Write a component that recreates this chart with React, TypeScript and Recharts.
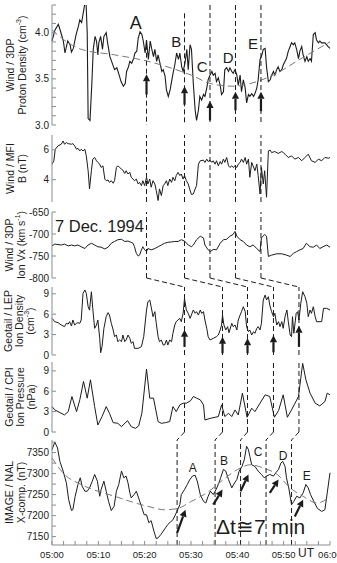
import React from "react";
import { Line, LineChart, ReferenceDot, ReferenceLine, XAxis, YAxis } from "recharts";

type Pt = [number, number];

// time is in minutes after 05:00 UT
const minuteTicks = [0, 2.5, 5, 7.5, 10, 12.5, 15, 17.5, 20, 22.5, 25, 27.5, 30, 32.5, 35, 37.5, 40, 42.5, 45, 47.5, 50, 52.5, 55, 57.5, 60];
const timeLabels = ["05:00", "05:10", "05:20", "05:30", "05:40", "05:50", "06:00"];

const densityTicks = [3.0, 3.1, 3.2, 3.3, 3.4, 3.5, 3.6, 3.7, 3.8, 3.9, 4.0, 4.1, 4.2, 4.3];
const densityLabels = [3.0, 3.5, 4.0];
const fieldTicks = [4, 6];
const vxTicks = [-800, -750, -700, -650];
const geotailTicks = [0, 3, 6, 9];
const nalTicks = [7150, 7175, 7200, 7225, 7250, 7275, 7300, 7325, 7350, 7375];
const nalLabels = [7150, 7200, 7250, 7300, 7350];

// Wind / 3DP proton density (cm-3)
const protonDensity: Pt[] = [
  [0, 3.91], [0.65, 4.03], [1.37, 4.09], [1.87, 4.01], [2.45, 3.91], [2.8, 3.78], [3.4, 3.91], [3.9, 3.87], [4.2, 3.79], [4.6, 3.83],
  [5.2, 3.98], [5.7, 4.07], [6.0, 4.14], [6.4, 4.11], [6.8, 4.23], [7.1, 4.32], [7.3, 4.39], [7.6, 4.0], [7.8, 3.07], [8.2, 3.05],
  [8.6, 3.45], [8.9, 3.82], [9.3, 3.96], [9.6, 3.91], [9.9, 3.76], [10.1, 3.89], [10.5, 3.96], [10.9, 3.82], [11.2, 3.96], [11.7, 4.0],
  [12.0, 3.89], [12.5, 3.74], [13.0, 3.67], [13.5, 3.6], [14.0, 3.62], [14.5, 3.54], [14.9, 3.47], [15.4, 3.42], [15.8, 3.45], [16.1, 3.58],
  [16.5, 3.63], [16.8, 3.69], [17.2, 3.67], [17.6, 3.72], [17.9, 3.78], [18.3, 3.8], [18.6, 3.94], [19.0, 4.01], [19.4, 3.98], [19.7, 3.91],
  [20.1, 3.78], [20.4, 3.92], [20.8, 3.71], [21.2, 3.91], [21.5, 3.83], [21.9, 3.74], [22.2, 3.82], [22.6, 3.69], [22.9, 3.76], [23.3, 3.67],
  [23.7, 3.58], [24.0, 3.6], [24.4, 3.53], [24.7, 3.38], [25.1, 3.31], [25.5, 3.38], [25.8, 3.47], [26.2, 3.58], [26.5, 3.65], [26.9, 3.78],
  [27.3, 3.71], [27.6, 3.78], [28.0, 3.63], [28.3, 3.58], [28.7, 3.67], [29.1, 3.82], [29.4, 3.6], [29.8, 3.87], [30.1, 3.82], [30.5, 3.45],
  [30.9, 3.16], [31.2, 3.05], [31.6, 3.16], [31.9, 3.31], [32.3, 3.27], [32.7, 3.33], [33.0, 3.31], [33.4, 3.4], [33.7, 3.49], [34.1, 3.54],
  [34.5, 3.58], [34.8, 3.54], [35.2, 3.56], [35.5, 3.47], [35.9, 3.51], [36.3, 3.43], [36.6, 3.33], [37.0, 3.36], [37.3, 3.6], [37.7, 3.62],
  [38.1, 3.58], [38.4, 3.62], [38.8, 3.58], [39.1, 3.56], [39.5, 3.6], [39.9, 3.54], [40.2, 3.43], [40.6, 3.54], [40.9, 3.36], [41.3, 3.49],
  [41.7, 3.4], [42.0, 3.24], [42.4, 3.33], [42.7, 3.31], [43.1, 3.34], [43.5, 3.31], [43.8, 3.34], [44.2, 3.4], [44.5, 3.49], [44.9, 3.71],
  [45.3, 3.76], [45.6, 3.82], [46.0, 3.83], [46.3, 3.63], [46.7, 3.47], [47.1, 3.49], [47.4, 3.54], [47.8, 3.58], [48.1, 3.54], [48.5, 3.6],
  [48.8, 3.63], [49.2, 3.58], [49.6, 3.6], [49.9, 3.65], [50.3, 3.69], [50.6, 3.72], [51.0, 3.8], [51.4, 3.85], [51.7, 3.89], [52.1, 3.87],
  [52.4, 3.89], [52.8, 3.82], [53.2, 3.72], [53.5, 3.8], [53.9, 3.85], [54.2, 3.76], [54.6, 3.69], [55.0, 3.74], [55.3, 3.69], [55.7, 3.72],
  [56.0, 3.69], [56.4, 3.98], [56.8, 4.0], [57.1, 3.92], [57.5, 3.89], [57.8, 3.91], [58.2, 3.89], [58.9, 3.89], [59.6, 3.85], [60, 3.83],
];
const densityTrend: Pt[] = [
  [0, 4.03], [3.5, 3.89], [6.3, 3.82], [13.5, 3.76], [20.7, 3.69], [27.9, 3.58], [30.1, 3.54], [34.1, 3.45], [39.1, 3.42],
  [44.2, 3.47], [48.5, 3.56], [52.8, 3.69], [57.2, 3.82], [60, 3.9],
];

// Wind / MFI |B| (nT)
const fieldB: Pt[] = [
  [0, 5.04], [0.4, 5.27], [0.7, 6.04], [1.3, 6.27], [2.0, 6.38], [2.4, 6.6], [2.7, 6.38], [3.1, 6.49], [3.5, 6.42], [4.2, 6.38],
  [4.5, 6.42], [4.9, 6.27], [5.3, 6.04], [5.6, 6.11], [6.0, 5.93], [6.3, 6.04], [6.7, 5.93], [7.1, 6.04], [7.4, 5.6], [7.8, 4.6],
  [8.1, 3.38], [8.5, 4.6], [8.8, 5.38], [9.2, 5.49], [9.6, 5.27], [9.9, 5.16], [10.3, 5.04], [10.6, 4.82], [11.0, 4.93], [11.4, 4.04],
  [11.7, 3.93], [12.1, 3.98], [12.4, 3.82], [12.8, 3.93], [13.2, 3.76], [13.5, 3.93], [13.9, 4.82], [14.2, 4.93], [14.6, 4.82], [15.0, 4.71],
  [15.3, 4.64], [15.7, 4.42], [16.0, 4.6], [16.4, 4.38], [16.8, 4.49], [17.1, 4.16], [17.5, 4.04], [17.8, 3.93], [18.2, 4.04], [18.6, 3.71],
  [18.9, 3.82], [19.3, 3.6], [19.6, 3.93], [20.0, 3.6], [20.4, 4.16], [20.7, 3.71], [21.1, 4.04], [21.4, 3.49], [21.8, 3.93], [22.2, 3.71],
  [22.5, 3.27], [22.9, 2.6], [23.2, 3.38], [23.6, 2.93], [24.0, 3.6], [24.3, 3.71], [24.7, 3.93], [25.0, 3.6], [25.4, 4.04], [25.8, 3.82],
  [26.1, 4.16], [26.5, 3.93], [26.8, 4.27], [27.2, 4.49], [27.6, 4.27], [27.9, 4.38], [28.3, 4.04], [28.6, 4.27], [29.0, 3.93], [29.4, 3.71],
  [29.7, 3.38], [30.1, 3.0], [30.5, 3.04], [30.9, 3.38], [31.2, 3.6], [31.6, 5.04], [32.0, 5.27], [32.7, 5.31], [33.0, 5.16], [33.4, 5.38],
  [33.7, 5.22], [34.1, 5.31], [34.5, 5.16], [34.8, 5.27], [35.2, 5.04], [35.5, 5.27], [35.9, 4.93], [36.3, 5.22], [36.6, 5.04], [37.0, 5.38],
  [37.3, 5.16], [37.7, 5.49], [38.1, 4.93], [38.4, 4.82], [38.8, 4.93], [39.1, 4.82], [39.5, 4.93], [39.9, 4.82], [40.2, 5.04], [40.6, 5.16],
  [40.9, 5.38], [41.3, 5.16], [41.7, 5.49], [42.0, 5.04], [42.4, 5.38], [42.7, 4.16], [43.1, 5.16], [43.4, 4.93], [43.8, 4.6], [44.2, 5.04],
  [44.5, 4.27], [44.9, 3.04], [45.2, 4.82], [45.6, 3.71], [45.9, 4.6], [46.3, 2.82], [46.7, 5.93], [47.1, 5.98], [47.4, 5.82], [48.1, 5.89],
  [48.8, 5.76], [49.6, 5.89], [49.9, 5.82], [50.3, 5.71], [51.0, 5.49], [51.7, 5.6], [52.4, 5.38], [53.2, 5.49], [53.9, 5.27], [54.6, 5.49],
  [55.3, 5.71], [56.0, 5.27], [56.8, 5.16], [57.5, 5.38], [58.2, 5.27], [58.9, 5.49], [59.7, 5.44], [60, 5.49],
];

// Wind / 3DP ion Vx (km/s)
const ionVx: Pt[] = [
  [0, -727], [0.6, -723], [1.3, -724], [2.0, -725], [2.7, -723], [3.5, -727], [4.2, -725], [4.9, -727], [5.6, -725], [6.3, -729],
  [7.1, -733], [7.8, -725], [8.5, -721], [9.2, -725], [9.9, -729], [10.6, -730], [11.4, -734], [12.1, -730], [12.8, -721], [13.5, -717],
  [14.2, -713], [15.0, -712], [15.7, -717], [16.4, -716], [17.1, -719], [17.5, -721], [17.8, -729], [18.2, -744], [18.6, -750], [18.9, -748],
  [19.3, -736], [19.6, -729], [20.0, -736], [20.4, -740], [20.7, -733], [21.4, -736], [22.2, -733], [22.9, -729], [23.6, -725], [24.3, -721],
  [25.0, -719], [25.8, -718], [26.5, -717], [27.2, -717], [27.9, -713], [28.6, -716], [29.4, -725], [30.1, -729], [30.5, -725], [31.2, -713],
  [32.0, -705], [32.7, -709], [33.0, -725], [33.7, -736], [34.2, -740], [34.8, -735], [35.5, -736], [36.3, -721], [37.0, -713], [37.7, -712],
  [38.4, -705], [39.1, -701], [39.5, -694], [39.9, -705], [40.6, -713], [41.3, -717], [42.0, -725], [42.7, -729], [43.4, -725], [44.2, -733],
  [44.9, -740], [45.2, -709], [45.9, -701], [46.3, -705], [46.7, -751], [47.4, -748], [48.5, -745], [49.6, -745], [50.6, -748], [51.4, -751],
  [52.1, -744], [52.8, -740], [53.5, -736], [54.2, -733], [54.9, -721], [55.7, -729], [56.4, -730], [57.1, -725], [57.8, -733], [58.5, -729],
  [59.3, -725], [60, -730],
];

// Geotail / LEP ion density (cm-3)
const lepDensity: Pt[] = [
  [0, 5.4], [0.6, 4.9], [1.3, 4.75], [2.0, 4.41], [2.7, 4.17], [3.1, 4.66], [3.5, 4.56], [3.8, 4.9], [4.2, 4.26], [4.5, 5.15],
  [4.9, 4.41], [5.3, 4.66], [5.6, 4.75], [6.0, 4.66], [6.3, 5.15], [6.7, 9.07], [7.1, 9.56], [7.4, 9.07], [7.8, 7.1], [8.1, 6.6],
  [8.5, 9.3], [8.8, 6.86], [9.2, 3.92], [9.6, 4.41], [9.9, 5.15], [10.3, 2.45], [10.5, 0.34], [10.8, 1.23], [11.2, 3.92], [11.7, 5.64],
  [12.1, 6.23], [12.4, 5.88], [12.8, 4.66], [13.2, 3.68], [13.5, 2.7], [13.9, 2.94], [14.2, 1.96], [14.6, 2.21], [15.0, 1.96], [15.3, 2.94],
  [15.7, 1.96], [16.0, 2.21], [16.4, 2.94], [16.8, 2.45], [17.1, 1.72], [17.5, 1.96], [17.8, 0.98], [18.6, 0.98], [19.3, 1.23], [19.8, 2.7],
  [20.4, 6.62], [20.7, 7.84], [21.1, 8.09], [21.4, 7.1], [21.8, 5.64], [22.2, 6.37], [22.5, 4.66], [22.9, 2.7], [23.2, 1.96], [23.6, 2.21],
  [24.0, 1.47], [24.3, 1.47], [24.7, 2.21], [25.0, 1.47], [25.4, 2.21], [25.8, 1.96], [26.1, 3.19], [26.5, 4.41], [26.8, 4.9], [27.2, 5.15],
  [27.6, 5.39], [27.9, 4.9], [28.3, 6.13], [28.6, 8.3], [29.0, 6.62], [29.4, 6.13], [29.8, 5.39], [30.5, 6.62], [30.9, 6.13], [31.2, 6.37],
  [31.6, 5.88], [32.0, 6.62], [32.3, 6.13], [32.7, 6.37], [33.0, 5.15], [33.4, 3.92], [33.7, 2.7], [34.1, 2.21], [34.8, 2.45], [35.5, 2.7],
  [35.9, 2.94], [36.3, 3.68], [36.6, 4.41], [36.8, 5.88], [37.1, 4.41], [37.5, 3.68], [37.9, 4.17], [38.2, 3.28], [38.8, 4.66], [39.1, 4.17],
  [39.5, 4.41], [39.9, 3.68], [40.2, 5.15], [40.6, 5.88], [40.9, 6.37], [41.3, 7.1], [41.7, 6.37], [42.0, 4.17], [42.4, 3.43], [42.7, 3.68],
  [43.1, 2.94], [43.5, 3.43], [43.8, 3.19], [44.2, 3.92], [44.5, 4.17], [44.9, 3.68], [45.2, 4.66], [45.6, 8.09], [46.0, 8.82], [46.3, 8.09],
  [46.7, 8.58], [47.0, 7.35], [47.4, 6.37], [47.8, 5.64], [48.1, 6.13], [48.5, 4.41], [48.9, 4.9], [49.2, 4.17], [49.6, 4.9], [49.9, 3.92],
  [50.3, 5.64], [50.7, 6.62], [51.0, 4.9], [51.4, 2.94], [51.7, 2.7], [51.9, 5.64], [52.2, 3.19], [52.7, 6.13], [53.0, 6.37], [53.3, 5.15],
  [53.7, 7.6], [54.1, 9.31], [54.6, 8.58], [55.0, 7.6], [55.3, 5.64], [55.7, 6.62], [56.0, 6.13], [56.4, 7.1], [56.8, 5.64], [57.1, 4.9],
  [58.2, 4.9], [58.6, 6.86], [59.3, 6.86], [60, 6.62],
];

// Geotail / CPI ion pressure (nPa)
const cpiPressure: Pt[] = [
  [0, 3.74], [0.6, 3.25], [1.7, 2.86], [2.7, 2.51], [3.5, 3.0], [4.3, 5.22], [5.3, 3.0], [6.0, 4.73], [6.8, 7.44], [7.6, 4.98],
  [8.3, 7.68], [9.2, 3.74], [9.9, 1.03], [10.8, 2.27], [11.7, 3.74], [12.4, 2.76], [13.2, 1.38], [14.2, 1.28], [15.0, 0.79], [16.3, 1.67],
  [17.1, 0.79], [18.0, 0.54], [18.7, 0.89], [19.4, 2.76], [20.4, 9.26], [21.1, 4.98], [21.9, 4.98], [22.9, 1.53], [23.6, 1.28], [24.5, 1.38],
  [25.4, 1.53], [26.1, 3.74], [26.8, 3.0], [27.6, 3.99], [28.3, 4.24], [29.0, 4.24], [29.9, 4.6], [30.5, 5.22], [31.2, 4.98], [32.0, 4.73],
  [32.7, 3.99], [33.0, 1.77], [34.1, 2.0], [35.2, 2.17], [35.9, 2.27], [36.6, 3.99], [37.3, 2.27], [38.1, 2.76], [38.8, 2.27], [39.5, 3.25],
  [40.2, 2.51], [41.1, 5.71], [42.1, 2.17], [43.1, 3.5], [43.8, 3.0], [44.9, 4.24], [46.0, 5.47], [47.0, 5.22], [48.0, 2.17], [48.9, 3.15],
  [49.9, 5.47], [50.8, 2.17], [51.7, 3.25], [53.2, 5.22], [54.1, 10.1], [54.8, 7.68], [55.7, 5.71], [56.8, 4.24], [57.8, 3.84], [58.9, 4.48],
  [59.4, 5.71], [60, 5.47],
];

// IMAGE / NAL X component (nT)
const nalX: Pt[] = [
  [0, 7357], [0.6, 7375], [1.2, 7361], [1.7, 7329], [2.4, 7306], [3.1, 7278], [3.6, 7238], [4.2, 7212], [4.5, 7214], [5.0, 7246],
  [5.6, 7274], [6.1, 7290], [6.5, 7270], [7.1, 7258], [7.6, 7258], [8.1, 7266], [8.7, 7282], [9.2, 7298], [9.8, 7282], [10.3, 7246],
  [10.6, 7262], [11.2, 7282], [11.7, 7258], [12.2, 7234], [12.8, 7212], [13.4, 7222], [13.9, 7258], [14.4, 7274], [15.0, 7306], [15.5, 7290],
  [16.0, 7294], [16.4, 7278], [16.8, 7254], [17.1, 7242], [17.7, 7250], [18.2, 7258], [18.7, 7242], [19.3, 7222], [19.9, 7202], [20.4, 7202],
  [20.9, 7183], [21.4, 7188], [22.0, 7163], [22.5, 7145], [22.9, 7147], [23.5, 7155], [24.0, 7163], [24.5, 7171], [25.0, 7179], [25.6, 7185],
  [26.1, 7190], [26.8, 7206], [27.6, 7226], [27.9, 7250], [28.6, 7262], [29.2, 7274], [29.7, 7285], [30.3, 7294], [30.9, 7296], [31.4, 7280],
  [32.0, 7250], [32.7, 7234], [33.2, 7230], [33.7, 7246], [34.2, 7258], [34.8, 7250], [35.4, 7262], [35.9, 7274], [36.4, 7290], [37.0, 7310],
  [37.5, 7306], [38.1, 7286], [38.8, 7266], [39.4, 7278], [39.9, 7286], [40.4, 7306], [41.0, 7317], [41.5, 7333], [42.0, 7365], [42.4, 7357],
  [42.7, 7341], [43.1, 7321], [43.8, 7317], [44.5, 7306], [45.2, 7298], [45.8, 7290], [46.3, 7294], [47.0, 7298], [47.8, 7294], [48.3, 7302],
  [48.9, 7310], [49.4, 7325], [49.8, 7329], [50.3, 7317], [50.6, 7290], [51.1, 7266], [51.7, 7226], [52.2, 7234], [52.8, 7246], [53.5, 7242],
  [54.2, 7254], [54.8, 7274], [55.3, 7266], [55.8, 7250], [56.5, 7234], [57.3, 7217], [58.2, 7210], [58.9, 7214], [59.4, 7254], [60, 7302],
];
const nalTrend: Pt[] = [
  [0, 7337], [2.7, 7298], [6.3, 7274], [13.5, 7246], [20.7, 7222], [24.3, 7214], [26.8, 7216], [30.1, 7234], [33.4, 7254],
  [37.0, 7286], [40.6, 7313], [42.7, 7321], [45.7, 7313], [48.6, 7298], [51.4, 7266], [54.2, 7246], [57.2, 7230], [60, 7245],
];

// event times A..E at Wind, at Geotail and on the ground
const eventNames = ["A", "B", "C", "D", "E"];
const windTimes = [20.4, 28.6, 34.1, 39.6, 45.1];
const geotailTimes = [28.6, 36.8, 42.2, 47.8, 53.3];
const groundTimes = [27.0, 35.2, 40.7, 46.2, 51.7];

const INK = "#1c1c1c";
const FRAME = "#8c8c8c";
const TREND = "#7a7a7a";
const FONT = "'Liberation Sans', Arial, Helvetica, sans-serif";
const AX = { xAxisId: "b", yAxisId: "l" } as const;
const DASH = "5 3";

const rows = (pts: Pt[]) => pts.map(([t, v]) => ({ t, v }));
const blank = () => "";
const timeTick = (t: number) => (t % 10 === 0 ? timeLabels[t / 10] : "");

function Arrow(p: any) {
  const { x1, y1, x2, y2 } = p;
  const len = Math.hypot(x2 - x1, y2 - y1) || 1;
  const ux = (x2 - x1) / len;
  const uy = (y2 - y1) / len;
  const bx = x2 - ux * 7;
  const by = y2 - uy * 7;
  return (
    <g>
      <line x1={x1} y1={y1} x2={bx} y2={by} stroke={INK} strokeWidth={2.2} />
      <polygon points={`${x2},${y2} ${bx - uy * 3.6},${by + ux * 3.6} ${bx + uy * 3.6},${by - ux * 3.6}`} fill={INK} />
    </g>
  );
}

const textShape = (value: string, size: number, anchor: "start" | "middle" = "middle") => (p: any) => (
  <text x={p.cx} y={p.cy} textAnchor={anchor} dominantBaseline="central" fontSize={size} fontFamily={FONT} fill={INK}>
    {value}
  </text>
);

type TitleLine = { x: number; text: React.ReactNode };

function Panel(props: {
  top: number;
  height: number;
  domain: [number, number];
  ticks: number[];
  labels?: number[];
  digits?: number;
  title: TitleLine[];
  timeAxis?: boolean;
  children: React.ReactNode;
}) {
  const { top, height, domain, ticks, labels, digits = 0, title, timeAxis = false, children } = props;
  const fmt = (v: number) => (!labels || labels.some((l) => Math.abs(l - v) < 1e-6) ? v.toFixed(digits) : "");
  const cy = height / 2;
  const axisStyle = { stroke: FRAME };
  const tickStyle = { fontSize: 10, fill: INK, fontFamily: FONT };
  return (
    <div style={{ position: "absolute", left: 0, top }}>
      <LineChart width={337} height={height + (timeAxis ? 18 : 0)} margin={{ top: 0, right: 7, bottom: 0, left: 0 }}>
        <XAxis
          xAxisId="b"
          dataKey="t"
          type="number"
          domain={[0, 60]}
          ticks={minuteTicks}
          interval={0}
          tickSize={-4}
          tickMargin={10}
          height={timeAxis ? 18 : 0}
          tickFormatter={timeAxis ? timeTick : blank}
          tick={{ ...tickStyle, fontSize: 9.5 }}
          tickLine={axisStyle}
          axisLine={axisStyle}
          label={
            timeAxis
              ? () => (
                  <text x={306} y={height + 12} textAnchor="middle" fontSize={12} fontFamily={FONT} fill={INK}>
                    UT
                  </text>
                )
              : undefined
          }
        />
        <XAxis
          xAxisId="t"
          orientation="top"
          dataKey="t"
          type="number"
          domain={[0, 60]}
          ticks={minuteTicks}
          interval={0}
          tickSize={-4}
          height={0}
          tickFormatter={blank}
          tickLine={axisStyle}
          axisLine={axisStyle}
        />
        <YAxis
          yAxisId="l"
          type="number"
          domain={domain}
          allowDataOverflow
          ticks={ticks}
          interval={0}
          tickSize={-4}
          tickMargin={7}
          width={52}
          tickFormatter={fmt}
          tick={tickStyle}
          tickLine={axisStyle}
          axisLine={axisStyle}
          label={() => (
            <g>
              {title.map((l, i) => (
                <text
                  key={i}
                  x={l.x}
                  y={cy}
                  transform={`rotate(-90 ${l.x} ${cy})`}
                  textAnchor="middle"
                  dominantBaseline="central"
                  fontSize={10.5}
                  fontFamily={FONT}
                  fill={INK}
                >
                  {l.text}
                </text>
              ))}
            </g>
          )}
        />
        <YAxis
          yAxisId="r"
          orientation="right"
          type="number"
          domain={domain}
          allowDataOverflow
          ticks={ticks}
          interval={0}
          tickSize={-4}
          width={0}
          tickFormatter={blank}
          tickLine={axisStyle}
          axisLine={axisStyle}
        />
        {children}
      </LineChart>
    </div>
  );
}

const sup = (s: string) => (
  <>
    <tspan dy={-4} fontSize={7}>
      {s}
    </tspan>
    <tspan dy={4}>)</tspan>
  </>
);

export default function App() {
  const series = (pts: Pt[], width = 1) => (
    <Line {...AX} data={rows(pts)} dataKey="v" type="linear" dot={false} stroke={INK} strokeWidth={width} isAnimationActive={false} />
  );
  const trend = (pts: Pt[]) => (
    <Line {...AX} data={rows(pts)} dataKey="v" type="monotone" dot={false} stroke={TREND} strokeWidth={1} strokeDasharray="7 4" isAnimationActive={false} />
  );
  const windTop = [3.87, 4.21, 4.3, 4.3, 4.3];
  const windArrows: Pt[] = [[3.33, 3.55], [3.22, 3.42], [3.05, 3.26], [3.16, 3.36], [3.15, 3.36]];
  const windLetters: [number, number, number][] = [[18.1, 4.11, 18], [26.8, 3.9, 15], [32.4, 3.63, 15], [38.0, 3.73, 15], [43.4, 3.88, 15]];
  const geoArrows: Pt[] = [[1.2, 3.7], [0.25, 2.7], [0.25, 2.45], [0.4, 2.9], [1.2, 4.3]];
  const groundArrows: [number, number, number, number][] = [
    [27.0, 7159, 28.8, 7214], [34.8, 7226, 36.8, 7262], [40.7, 7258, 42.4, 7298], [47.0, 7254, 48.9, 7286], [52.4, 7198, 54.2, 7238],
  ];
  const groundLetters: Pt[] = [[30.4, 7314], [37.1, 7331], [44.5, 7352], [49.9, 7343], [55.0, 7295]];

  return (
    <div style={{ position: "relative", width: 337, height: 563, overflow: "hidden", background: "#fff" }}>
      <style>{"body{margin:0}.recharts-surface{overflow:visible}"}</style>

      <Panel
        top={5}
        height={120}
        domain={[3.0, 4.3]}
        ticks={densityTicks}
        labels={densityLabels}
        digits={1}
        title={[
          { x: 10, text: "Wind / 3DP" },
          { x: 22, text: <>Proton Density (cm{sup("-3")}</> },
        ]}
      >
        {series(protonDensity, 1.1)}
        {trend(densityTrend)}
        {windTimes.map((t, i) => (
          <ReferenceLine key={`v${i}`} {...AX} segment={[{ x: t, y: windTop[i] }, { x: t, y: 3.0 }]} stroke={INK} strokeDasharray={DASH} ifOverflow="visible" />
        ))}
        {windTimes.map((t, i) => (
          <ReferenceLine key={`a${i}`} {...AX} segment={[{ x: t, y: windArrows[i][0] }, { x: t, y: windArrows[i][1] }]} shape={Arrow} ifOverflow="visible" />
        ))}
        {eventNames.map((n, i) => (
          <ReferenceDot key={n} {...AX} x={windLetters[i][0]} y={windLetters[i][1]} r={0} shape={textShape(n, windLetters[i][2])} />
        ))}
      </Panel>

      <Panel
        top={135}
        height={67}
        domain={[2.5, 7.0]}
        ticks={fieldTicks}
        title={[
          { x: 10, text: "Wind / MFI" },
          { x: 22, text: "B (nT)" },
        ]}
      >
        {series(fieldB)}
        {windTimes.map((t) => (
          <ReferenceLine key={t} {...AX} x={t} stroke={INK} strokeDasharray={DASH} />
        ))}
      </Panel>

      <Panel
        top={212}
        height={66}
        domain={[-800, -650]}
        ticks={vxTicks}
        title={[
          { x: 9, text: "Wind / 3DP" },
          { x: 21, text: <>Ion Vx (km s{sup("-1")}</> },
        ]}
      >
        {series(ionVx)}
        {windTimes.map((t) => (
          <ReferenceLine key={t} {...AX} x={t} stroke={INK} strokeDasharray={DASH} />
        ))}
        {windTimes.map((t, i) => (
          <ReferenceLine key={`c${i}`} {...AX} segment={[{ x: t, y: -800 }, { x: geotailTimes[i], y: -820.5 }]} stroke={INK} strokeDasharray={DASH} ifOverflow="visible" />
        ))}
        <ReferenceDot {...AX} x={0.65} y={-682} r={0} shape={textShape("7 Dec. 1994", 16.5, "start")} />
      </Panel>

      <Panel
        top={287}
        height={68}
        domain={[0, 10]}
        ticks={geotailTicks}
        title={[
          { x: 8, text: "Geotail / LEP" },
          { x: 19, text: "Ion Density" },
          { x: 30, text: <>(cm{sup("-3")}</> },
        ]}
      >
        {series(lepDensity)}
        {geotailTimes.map((t) => (
          <ReferenceLine key={t} {...AX} x={t} stroke={INK} strokeDasharray={DASH} />
        ))}
        {geotailTimes.map((t, i) => (
          <ReferenceLine key={`a${i}`} {...AX} segment={[{ x: t, y: geoArrows[i][0] }, { x: t, y: geoArrows[i][1] }]} shape={Arrow} ifOverflow="visible" />
        ))}
      </Panel>

      <Panel
        top={362}
        height={70}
        domain={[0, 10.3]}
        ticks={geotailTicks}
        title={[
          { x: 9, text: "Geotail / CPI" },
          { x: 20, text: "Ion Pressure" },
          { x: 31, text: "(nPa)" },
        ]}
      >
        {series(cpiPressure)}
        {geotailTimes.map((t) => (
          <ReferenceLine key={t} {...AX} x={t} stroke={INK} strokeDasharray={DASH} />
        ))}
        {geotailTimes.map((t, i) => (
          <ReferenceLine key={`c${i}`} {...AX} segment={[{ x: t, y: 0 }, { x: groundTimes[i], y: -1.18 }]} stroke={INK} strokeDasharray={DASH} ifOverflow="visible" />
        ))}
      </Panel>

      <Panel
        top={440}
        height={105}
        domain={[7130, 7380]}
        ticks={nalTicks}
        labels={nalLabels}
        timeAxis
        title={[
          { x: 9, text: "IMAGE / NAL" },
          { x: 21, text: "X-comp. (nT)" },
        ]}
      >
        {series(nalX)}
        {trend(nalTrend)}
        {groundTimes.map((t) => (
          <ReferenceLine key={t} {...AX} x={t} stroke={INK} strokeDasharray={DASH} />
        ))}
        {groundArrows.map((a, i) => (
          <ReferenceLine key={`a${i}`} {...AX} segment={[{ x: a[0], y: a[1] }, { x: a[2], y: a[3] }]} shape={Arrow} ifOverflow="visible" />
        ))}
        {eventNames.map((n, i) => (
          <ReferenceDot key={n} {...AX} x={groundLetters[i][0]} y={groundLetters[i][1]} r={0} shape={textShape(n, 12)} />
        ))}
        <ReferenceDot {...AX} x={35.4} y={7174} r={0} shape={textShape("\u0394t\u22457 min", 21, "start")} />
      </Panel>
    </div>
  );
}
